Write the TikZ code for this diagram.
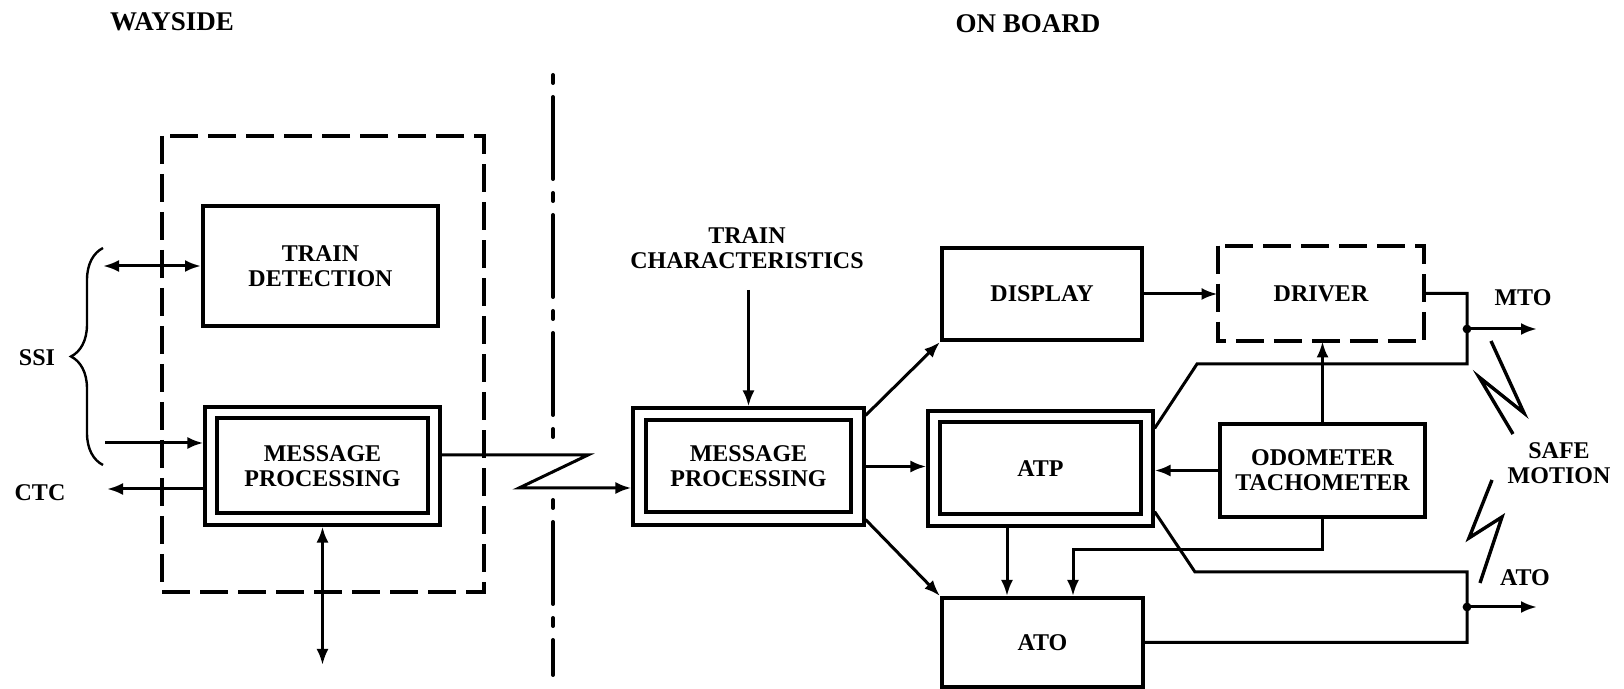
\documentclass[tikz,border=0pt]{standalone}
\usepackage{fontspec}
\setmainfont{Liberation Serif}
\usetikzlibrary{arrows.meta,calc,decorations.pathreplacing}

\begin{document}
\begin{tikzpicture}[x=0.5pt, y=-0.5pt,
    every node/.style={font=\fontsize{12}{12.5}\selectfont\bfseries, align=center},
    blok/.style={draw, line width=2pt, inner sep=0pt},
    stiplet/.style={line width=2pt, dash pattern=on 14pt off 5pt},
    skille/.style={line width=2pt, line cap=round, dash pattern=on 4pt off 7pt on 41pt off 7pt},
    forb/.style={line width=1.5pt},
    pil/.style={forb, -{Latex[length=8pt,width=6pt]}},
    dpil/.style={forb, {Latex[length=8pt,width=6pt]}-{Latex[length=8pt,width=6pt]}},
    tittel/.style={font=\fontsize{13.5}{15}\selectfont\bfseries}]
    \useasboundingbox (0,0) rectangle (1624,689);
    % Overskrifter
    \node[tittel] (wayside) at (172,22) {WAYSIDE};
    \node[tittel] (onboard) at (1028,24) {ON BOARD};
    % Skillelinje mellom bane og tog
    \draw[skille] (553,75) -- (553,443);
    \draw[skille] (553,500) -- (553,675);
    % Banesiden
    \draw[stiplet] (162,136) rectangle (484,592);
    \node[blok, minimum width=117.5pt, minimum height=60pt] (td) at (320.5,266) {TRAIN\\DETECTION};
    \node[blok, line width=1.6pt, minimum width=117.5pt, minimum height=59pt] (wmp) at (322.5,466) {};
    \node[blok, minimum width=105.5pt, minimum height=47.5pt] (wmpi) at (wmp) {MESSAGE\\PROCESSING};
    % SSI og CTC
    \draw[line width=1.2pt, decorate, decoration={brace, amplitude=16pt}] (103,465) -- (103,248);
    \node (ssi) at (37,358) {SSI};
    \node (ctclbl) at (40,493) {CTC};
    \coordinate (ssiA) at (103,266);
    \coordinate (ssiB) at (105,443);
    \coordinate (ctc) at (107,489);
    \coordinate (bus) at (322.5,665);
    \draw[dpil] (ssiA) -- (td.west);
    \draw[pil] (ssiB) -- (ssiB -| wmp.west);
    \draw[pil] (ctc -| wmp.west) -- (ctc);
    \draw[dpil] (wmp.south) -- (bus);
    % Radiooverfoering
    \coordinate (zigA) at (588,455);
    \coordinate (zigB) at (519,488);
    % Togsiden
    \node[blok, line width=1.6pt, minimum width=115.5pt, minimum height=58.5pt] (omp) at (748.5,466.5) {};
    \node[blok, minimum width=102.5pt, minimum height=46pt] (ompi) at (omp) {MESSAGE\\PROCESSING};
    \draw[pil] (wmp.east |- zigA) -- (zigA) -- (zigB) -- (zigB -| omp.west);
    \node (tc) at (747,248) {TRAIN\\CHARACTERISTICS};
    \coordinate (tcin) at (748.5,290);
    \draw[pil] (tcin) -- (omp.north);
    \node[blok, minimum width=100pt, minimum height=46pt] (disp) at (1042,294) {DISPLAY};
    \node[minimum width=103pt, minimum height=47.5pt, inner sep=0pt] (drv) at (1321,293.5) {DRIVER};
    \draw[stiplet] (drv.north west) rectangle (drv.south east);
    \node[blok, line width=1.6pt, minimum width=112.5pt, minimum height=57.5pt] (atp) at (1040.5,468.5) {};
    \node[blok, minimum width=100.5pt, minimum height=46pt] (atpi) at (atp) {ATP};
    \node[blok, minimum width=102.5pt, minimum height=46.5pt] (odo) at (1322.5,470.5) {ODOMETER\\TACHOMETER};
    \node[blok, minimum width=100.5pt, minimum height=44.5pt] (ato) at (1042.5,642.5) {ATO};
    % Forbindelser
    \draw[pil] ($(omp.north east)+(0,9)$) -- (disp.south west);
    \draw[pil] (omp.east) -- (omp.east -| atp.west);
    \draw[pil] ($(omp.south east)+(0,-7)$) -- (ato.north west);
    \draw[pil] (disp.east) -- (disp.east -| drv.west);
    \draw[pil] (odo.north) -- (odo.north |- drv.south);
    \draw[pil] (odo.west) -- (odo.west -| atp.east);
    \coordinate (odoturn) at (1073,550);
    \draw[pil] (odo.south) |- (odoturn) -- (odoturn |- ato.north);
    \coordinate (atpdown) at (1007,0);
    \draw[pil] (atpdown |- atp.south) -- (atpdown |- ato.north);
    % Utganger MTO og ATO
    \coordinate (mtoknee) at (1197,364);
    \coordinate (mtojoin) at (1467,329);
    \coordinate (mtoout) at (1537,329);
    \draw[forb] (drv.east) -| (mtoknee -| mtojoin) -- (mtoknee) -- ($(atp.north east)+(0,19)$);
    \fill (mtojoin) circle[radius=2.2pt];
    \draw[pil] (mtojoin) -- (mtoout);
    \coordinate (atoknee) at (1195,572);
    \coordinate (atojoin) at (1467,607);
    \coordinate (atoout) at (1537,607);
    \draw[forb] ($(atp.south east)+(0,-16)$) -- (atoknee) -| (atojoin |- ato.east) -- (ato.east);
    \fill (atojoin) circle[radius=2.2pt];
    \draw[pil] (atojoin) -- (atoout);
    \node (mto) at (1523,298) {MTO};
    \node (atolbl) at (1525,578) {ATO};
    \node (safe) at (1559,463) {SAFE\\MOTION};
    % Lyn
    \draw[forb, line width=1.7pt] (1491,341) -- (1524,413) -- (1479,377) -- (1513,434);
    \draw[forb, line width=1.7pt] (1492,480) -- (1469,538) -- (1502,517) -- (1480,583);
\end{tikzpicture}
\end{document}
